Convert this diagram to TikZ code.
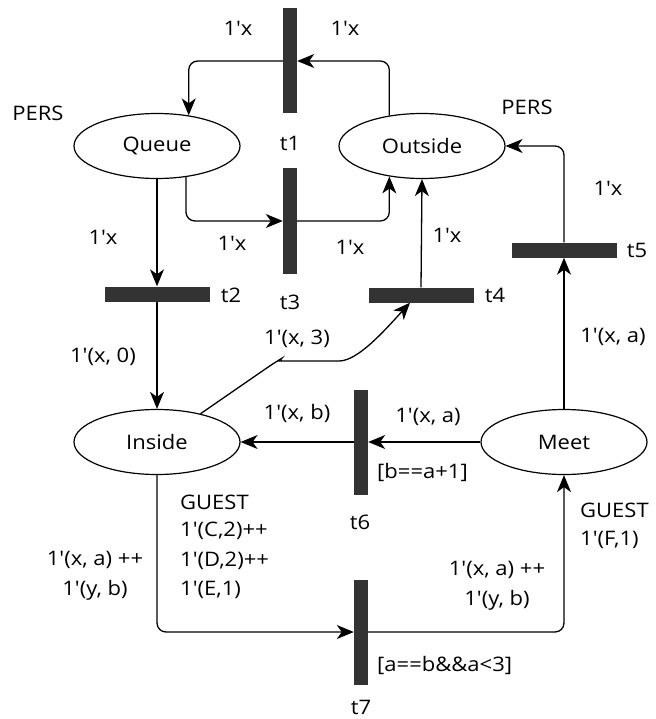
\documentclass[tikz,border=0pt]{standalone}
\usepackage{fontspec}
\newfontfamily\osans{Open Sans}[FakeStretch=1.1]
\usetikzlibrary{arrows.meta,shapes.geometric}
\tikzset{
  place/.style={draw, line width=1.2pt, ellipse, minimum width=166pt, minimum height=65pt, inner sep=0pt},
  vbar/.style={fill=black!80, minimum width=14pt, minimum height=105pt, inner sep=0pt},
  hbar/.style={fill=black!80, minimum width=105pt, minimum height=15pt, inner sep=0pt},
  arc/.style={line width=1.3pt, -{Stealth[length=17pt,width=14pt,inset=5pt]}, rounded corners=9pt},
  lbl/.style={inner sep=0pt, font=\osans\fontsize{20}{24}\selectfont},
  lbll/.style={lbl, anchor=west},
}
\begin{document}
\begin{tikzpicture}[x=1pt,y=-1pt]
\useasboundingbox (0,0) rectangle (655,719);
% places
\node[place] (Queue) at (157,146) {};
\node[lbl] at (157,146) {Queue};
\node[place] (Outside) at (422,146) {};
\node[lbl] at (422,146) {Outside};
\node[place] (Inside) at (157,442) {};
\node[lbl] at (157,442) {Inside};
\node[place] (Meet) at (564,442) {};
\node[lbl] at (564,442) {Meet};
% transitions
\node[vbar] (t1) at (290,61) {};
\node[vbar] (t3) at (290,221) {};
\node[hbar] (t2) at (157,294) {};
\node[hbar] (t4) at (421,295) {};
\node[hbar] (t5) at (564,250) {};
\node[vbar] (t6) at (361,442) {};
\node[vbar] (t7) at (361,632) {};
% arcs
\draw[arc] (Outside.137) |- (t1.east);
\draw[arc] (t1.west) -| (Queue.44);
\draw[arc] (Queue.south) -- (t2.north);
\draw[arc] (Queue.-47) |- (t3.west);
\draw[arc] (t3.east) -| (Outside.223);
\draw[arc] (t4.north) -- (Outside.south);
\draw[arc] (t5.north) |- (Outside.east);
\draw[arc] (Meet.north) -- (t5.south);
\draw[arc] (Meet.west) -- (t6.east);
\draw[arc] (t6.west) -- (Inside.east);
\draw[arc] (t2.south) -- (Inside.north);
\draw[arc] (Inside.33) -- (274,363) .. controls (279,360) and (283,361) .. (290,361) -- (330,361) .. controls (358,361) and (385,330) .. ([xshift=-11pt]t4.south);
\draw[arc] (Inside.south) |- (t7.west);
\draw[arc] (t7.east) -| (Meet.south);
% labels
\node[lbl] at (238,28) {1'x};
\node[lbl] at (345,28) {1'x};
\node[lbl] at (38,113) {PERS};
\node[lbl] at (527,107) {PERS};
\node[lbl] at (290,143) {t1};
\node[lbl] at (103,237) {1'x};
\node[lbl] at (232,243) {1'x};
\node[lbl] at (350,247) {1'x};
\node[lbl] at (447,235) {1'x};
\node[lbl] at (608,188) {1'x};
\node[lbl] at (231,295) {t2};
\node[lbl] at (290,302) {t3};
\node[lbl] at (495,295) {t4};
\node[lbl] at (637,250) {t5};
\node[lbl] at (103,357) {1'(x, 0)};
\node[lbl] at (297,339) {1'(x, 3)};
\node[lbl] at (613,337) {1'(x, a)};
\node[lbl] at (297,413) {1'(x, b)};
\node[lbl] at (428,417) {1'(x, a)};
\node[lbll] at (377,472) {[b==a+1]};
\node[lbl] at (360,522) {t6};
\node[lbll] at (180,502) {GUEST};
\node[lbll] at (180,531) {1'(C,2)++};
\node[lbll] at (180,561) {1'(D,2)++};
\node[lbll] at (180,590) {1'(E,1)};
\node[lbl] at (95,560) {1'(x, a) ++};
\node[lbl] at (95,590) {1'(y, b)};
\node[lbll] at (580,510) {GUEST};
\node[lbll] at (580,540) {1'(F,1)};
\node[lbl] at (497,570) {1'(x, a) ++};
\node[lbl] at (497,600) {1'(y, b)};
\node[lbll] at (377,665) {[a==b\&\&a<3]};
\node[lbl] at (361,707) {t7};
\end{tikzpicture}
\end{document}
